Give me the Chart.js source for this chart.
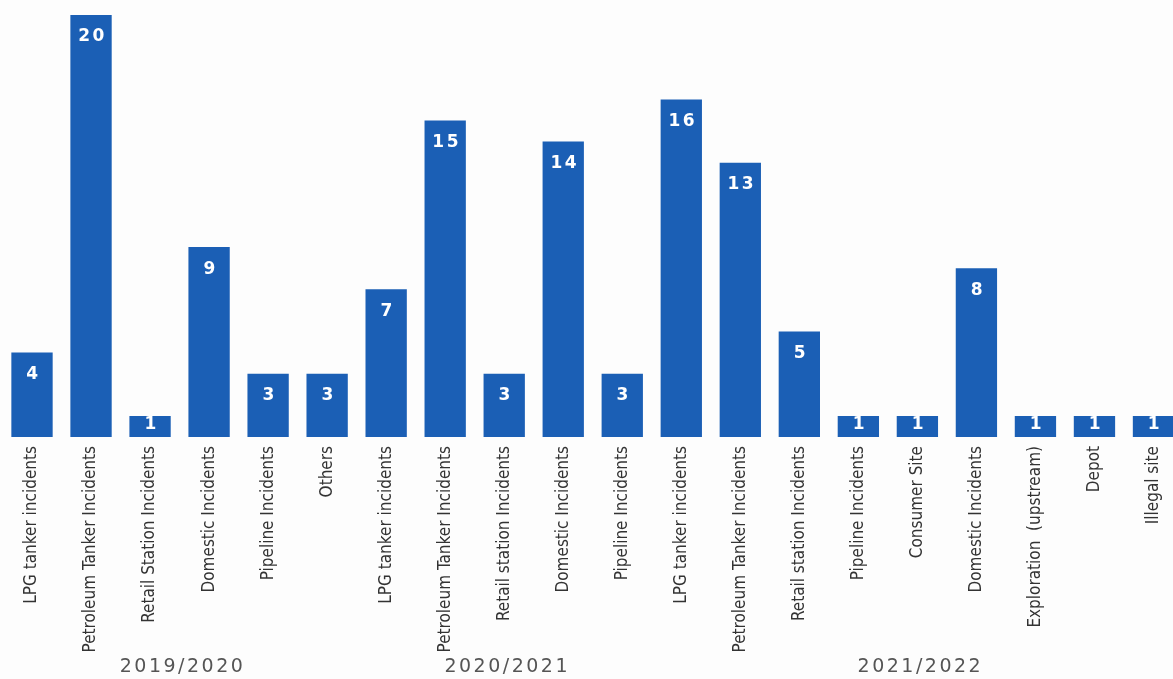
<!DOCTYPE html>
<html>
<head>
<meta charset="utf-8">
<script src="https://cdn.jsdelivr.net/npm/chart.js@4"></script>
<style>
  html, body { margin: 0; padding: 0; background: #fdfdfd; overflow: hidden; }
  #wrap { position: relative; width: 1183px; height: 679px; }
</style>
</head>
<body>
<div id="wrap"><canvas id="c"></canvas></div>
<script>
const categories = [
  "LPG tanker incidents", "Petroleum Tanker Incidents", "Retail Station Incidents",
  "Domestic Incidents", "Pipeline Incidents", "Others",
  "LPG tanker incidents", "Petroleum Tanker Incidents", "Retail station Incidents",
  "Domestic Incidents", "Pipeline Incidents",
  "LPG tanker incidents", "Petroleum Tanker Incidents", "Retail station Incidents",
  "Pipeline Incidents", "Consumer Site", "Domestic Incidents",
  "Exploration  (upstream)", "Depot", "Illegal site"
];
const incidents = [4, 20, 1, 9, 3, 3, 7, 15, 3, 14, 3, 16, 13, 5, 1, 1, 8, 1, 1, 1];
const groupNames = ["2019/2020", "2020/2021", "2021/2022"];
const groupStart = [0, 6, 11];
const groupEnd = [5, 10, 19];

const valueLabels = {
  id: 'valueLabels',
  afterDatasetsDraw(chart) {
    const ctx = chart.ctx;
    const meta = chart.getDatasetMeta(0);
    ctx.save();
    ctx.fillStyle = '#ffffff';
    ctx.font = 'bold 17px "DejaVu Sans", Verdana, sans-serif';
    ctx.letterSpacing = '2.5px';
    ctx.textAlign = 'center';
    ctx.textBaseline = 'middle';
    meta.data.forEach((bar, i) => {
      const top = bar.y, base = bar.base;
      const y = Math.min(top + 22, (top + base) / 2 - 2);
      ctx.fillText(String(incidents[i]), bar.x + 1.5, y);
    });
    ctx.restore();
  }
};

const groupLabels = {
  id: 'groupLabels',
  afterDraw(chart) {
    const ctx = chart.ctx;
    const x = chart.scales.x;
    ctx.save();
    ctx.fillStyle = '#555555';
    ctx.font = '19px "DejaVu Sans", Verdana, sans-serif';
    ctx.letterSpacing = '2.5px';
    ctx.textAlign = 'center';
    ctx.textBaseline = 'middle';
    groupNames.forEach((g, i) => {
      const cx = (x.getPixelForValue(groupStart[i]) + x.getPixelForValue(groupEnd[i])) / 2;
      ctx.fillText(g, cx + 3, 667);
    });
    ctx.restore();
  }
};

new Chart(document.getElementById('c'), {
  type: 'bar',
  data: {
    labels: categories,
    datasets: [{
      data: incidents,
      backgroundColor: '#1b5fb5',
      borderWidth: 0,
      categoryPercentage: 1,
      barPercentage: 0.7
    }]
  },
  options: {
    responsive: true,
    maintainAspectRatio: false,
    animation: false,
    events: [],
    layout: { padding: { top: 15, left: 2.5, right: 0, bottom: 0 } },
    plugins: { legend: { display: false }, tooltip: { enabled: false } },
    scales: {
      x: {
        grid: { display: false, drawTicks: false },
        border: { display: false },
        ticks: {
          autoSkip: false,
          maxRotation: 90,
          minRotation: 90,
          padding: 9,
          color: '#333333',
          font: { family: '"Liberation Sans Narrow", "DejaVu Sans Condensed", sans-serif', size: 17 }
        },
        afterFit(scale) { scale.height = 242; }
      },
      y: {
        display: false,
        min: 0,
        max: 20
      }
    }
  },
  plugins: [valueLabels, groupLabels]
});
</script>
</body>
</html>
